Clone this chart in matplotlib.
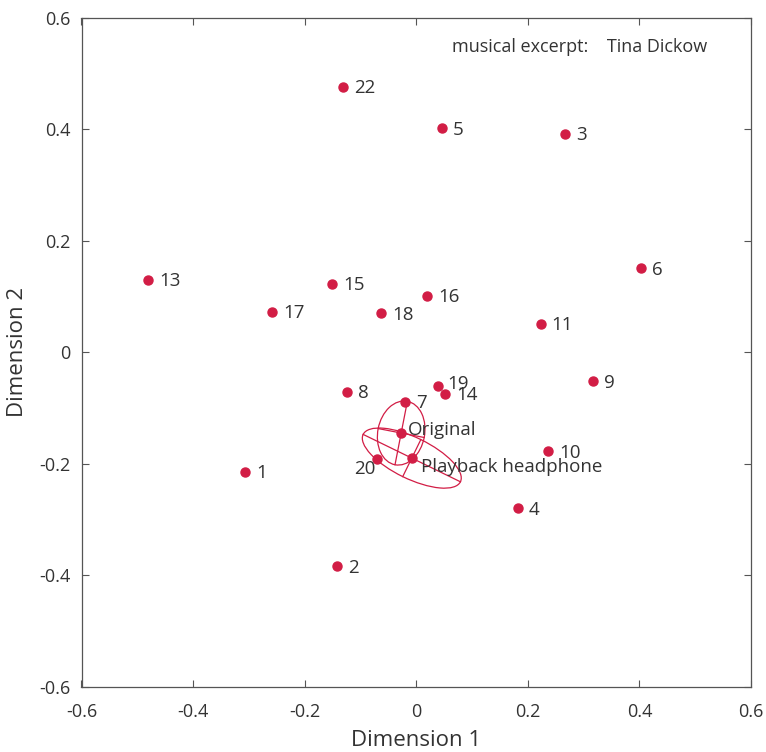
import matplotlib
matplotlib.use("Agg")
import matplotlib.pyplot as plt
from matplotlib.patches import Ellipse
import numpy as np

plt.rcParams['font.family'] = ['Open Sans', 'DejaVu Sans']

labels = ['22', '5', '3', '13', '6', '15', '17', '18', '16', '11', '19', '14',
          '8', '9', '7', 'Original', '10', '20', 'Playback headphone', '1', '4', '2']
xs = [-0.132, 0.046, 0.267, -0.481, 0.403, -0.151, -0.259, -0.063, 0.019, 0.223, 0.039, 0.052,
      -0.124, 0.317, -0.020, -0.027, 0.236, -0.070, -0.008, -0.307, 0.182, -0.142]
ys = [0.477, 0.402, 0.392, 0.130, 0.151, 0.123, 0.073, 0.070, 0.101, 0.051, -0.061, -0.075,
      -0.071, -0.052, -0.089, -0.145, -0.178, -0.192, -0.190, -0.215, -0.280, -0.384]

# confidence ellipses: centers, half-axes, angle (deg)
ell_cx = [-0.027, -0.008]
ell_cy = [-0.145, -0.190]
ell_a = [0.058, 0.097]
ell_b = [0.042, 0.037]
ell_ang = [79, -26]

ticks = [-0.6, -0.4, -0.2, 0, 0.2, 0.4, 0.6]
tick_labels = ['-0.6', '-0.4', '-0.2', '0', '0.2', '0.4', '0.6']

red = '#d21d45'
txt = '#333333'

fig = plt.figure(figsize=(7.66, 7.52), dpi=100)
ax = fig.add_axes([81.5/766, 1-686.5/752, (751-81.5)/766, (686.5-18)/752])

for cx, cy, a, b, ang in zip(ell_cx, ell_cy, ell_a, ell_b, ell_ang):
    e = Ellipse((cx, cy), 2*a, 2*b, angle=ang, fill=False, edgecolor=red, lw=0.9)
    ax.add_patch(e)
    t = np.deg2rad(ang)
    ax.plot([cx - a*np.cos(t), cx + a*np.cos(t)], [cy - a*np.sin(t), cy + a*np.sin(t)], color=red, lw=0.9)
    ax.plot([cx + b*np.sin(t), cx - b*np.sin(t)], [cy - b*np.cos(t), cy + b*np.cos(t)], color=red, lw=0.9)

ax.plot(xs, ys, 'o', color=red, ms=6.5, mec=red, zorder=3)

offsets = {'20': (-1.5, -7, 'right'), 'Original': (5, 2, 'left'),
           'Playback headphone': (6.5, -6.5, 'left'), '19': (7, 1.5, 'left')}
for lab, x, y in zip(labels, xs, ys):
    dx, dy, ha = offsets.get(lab, (8, -1, 'left'))
    ax.annotate(lab, (x, y), xytext=(dx, dy), textcoords='offset points',
                ha=ha, va='center', fontsize=13.5, color=txt)

ax.text(0.553, 0.9566, 'musical excerpt:    Tina Dickow', transform=ax.transAxes,
        fontsize=13, color=txt, va='center', ha='left')

ax.set_xlim(-0.6, 0.6)
ax.set_ylim(-0.6, 0.6)
ax.set_xticks(ticks)
ax.set_xticklabels(tick_labels)
ax.set_yticks(ticks)
ax.set_yticklabels(tick_labels)
ax.tick_params(direction='in', top=True, right=True, length=5, width=0.8,
               labelsize=13, labelcolor=txt, color='#555555')
ax.tick_params(axis='x', pad=12)
ax.tick_params(axis='y', pad=8)
for s in ax.spines.values():
    s.set_color('#555555')
    s.set_linewidth(0.9)
ax.set_xlabel('Dimension 1', fontsize=16, color=txt, labelpad=6)
ax.set_ylabel('Dimension 2', fontsize=16, color=txt, labelpad=8)

fig.savefig('out.png', dpi=100)
